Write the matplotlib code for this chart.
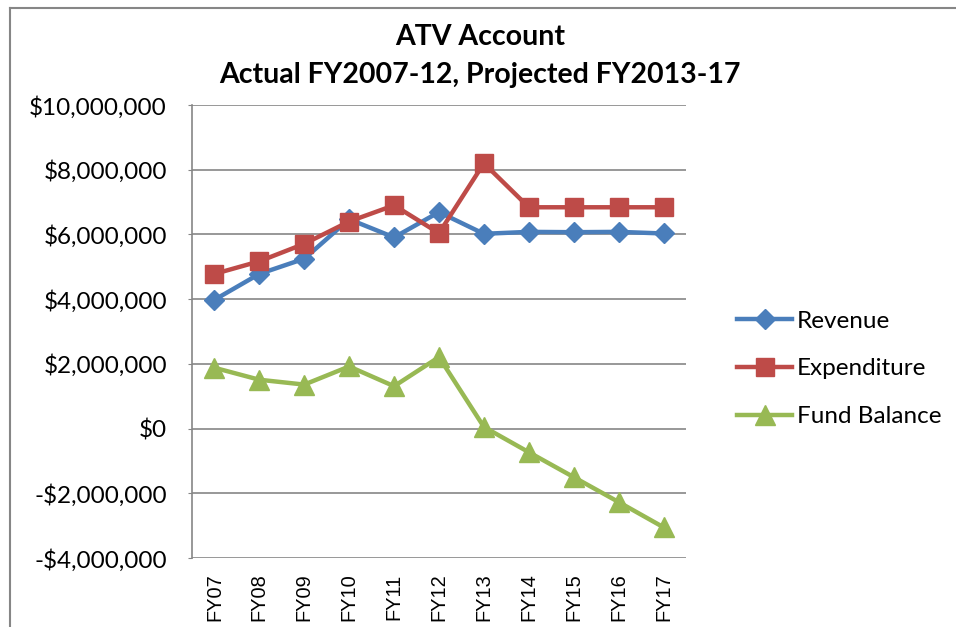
import matplotlib
matplotlib.use("Agg")
import matplotlib.pyplot as plt
from matplotlib.lines import Line2D
from matplotlib.ticker import FuncFormatter

years = ["FY07", "FY08", "FY09", "FY10", "FY11", "FY12",
         "FY13", "FY14", "FY15", "FY16", "FY17"]
revenue = [3.98e6, 4.78e6, 5.25e6, 6.47e6, 5.91e6, 6.69e6,
           6.02e6, 6.08e6, 6.07e6, 6.08e6, 6.03e6]
expenditure = [4.78e6, 5.17e6, 5.71e6, 6.40e6, 6.90e6, 6.04e6,
               8.20e6, 6.84e6, 6.84e6, 6.84e6, 6.84e6]
fund_balance = [1.88e6, 1.51e6, 1.36e6, 1.92e6, 1.31e6, 2.21e6,
                0.05e6, -0.73e6, -1.50e6, -2.27e6, -3.05e6]

cal = "Lato"
grid_col = "#868686"

fig = plt.figure(figsize=(9.56, 6.27), dpi=100)
ax = fig.add_axes([0.2008, 0.110, 0.5168, 0.7225])

x = range(len(years))
ax.plot(x, revenue, color="#4A7EBB", lw=3.2, marker="D", ms=10.5, label="Revenue", zorder=3)
ax.plot(x, expenditure, color="#BE4B48", lw=3.2, marker="s", ms=13, label="Expenditure", zorder=4)
ax.plot(x, fund_balance, color="#98B954", lw=3.2, marker="^", ms=14, label="Fund Balance", zorder=3)

ax.set_xlim(-0.5, len(years) - 0.5)
ax.set_ylim(-4e6, 10e6)
ax.set_yticks(range(-4000000, 10000001, 2000000))
ax.yaxis.set_major_formatter(FuncFormatter(
    lambda v, p: ("-$" if v < 0 else "$") + f"{abs(v):,.0f}"))
ax.grid(axis="y", color=grid_col, lw=1.2)
ax.set_axisbelow(True)

for s in ["top", "right", "bottom"]:
    ax.spines[s].set_visible(False)
ax.spines["left"].set_color(grid_col)
ax.spines["left"].set_linewidth(1.2)

ax.set_xticks(list(x))
ax.set_xticklabels(years, rotation=90, fontsize=14.4, family="Liberation Sans")
ax.tick_params(axis="x", length=0, pad=11)
ax.tick_params(axis="y", length=3, color=grid_col, pad=15, labelsize=17.5)
for t in ax.get_yticklabels():
    t.set_family(cal)

ax.legend(loc="center left", bbox_to_anchor=(0.771, 0.4115),
          bbox_transform=fig.transFigure, frameon=False, borderpad=0,
          borderaxespad=0, prop={"family": cal, "size": 17.5},
          handlelength=2.26, labelspacing=1.1, handletextpad=0.2)

fig.text(0.502, 0.941, "ATV Account", ha="center", va="center",
         fontsize=20.5, fontweight="bold", family=cal)
fig.text(0.502, 0.880, "Actual FY2007-12, Projected FY2013-17", ha="center",
         va="center", fontsize=20.5, fontweight="bold", family=cal)

# chart border
fig.add_artist(Line2D([0.0105, 0.0105], [0, 0.987], color=grid_col, lw=1.5))
fig.add_artist(Line2D([0.0105, 1.0], [0.987, 0.987], color=grid_col, lw=1.5))

fig.savefig("out.png", dpi=100)
